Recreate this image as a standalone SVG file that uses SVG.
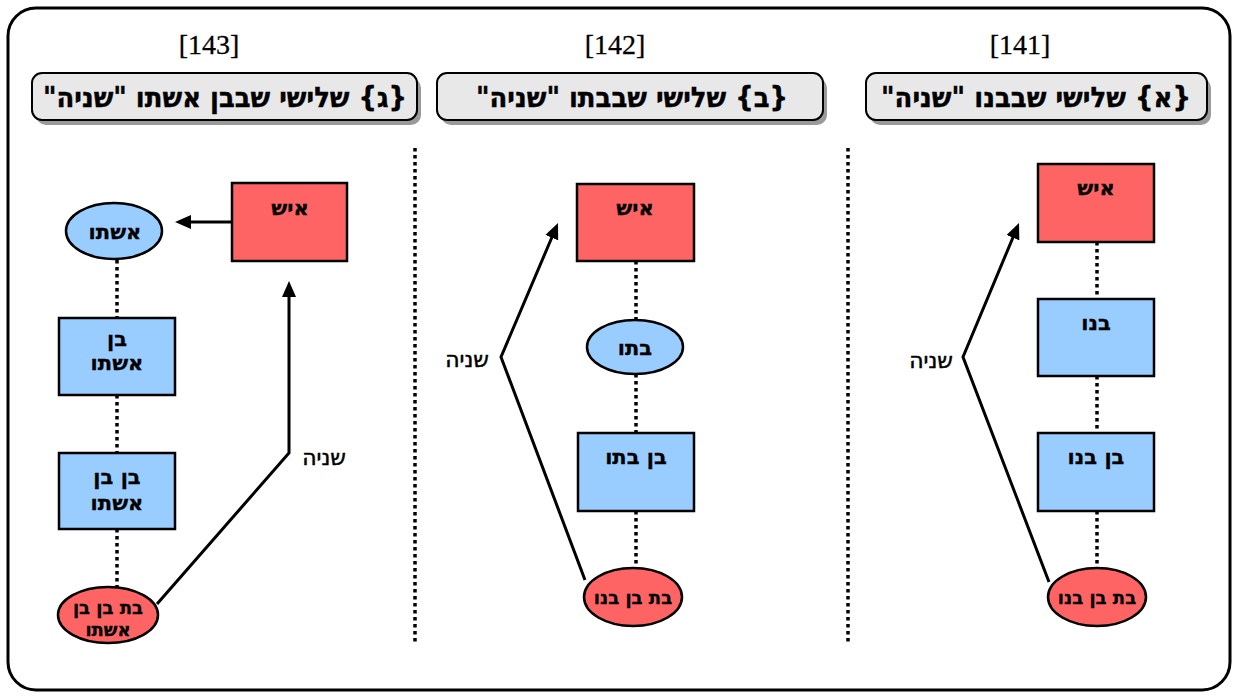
<svg xmlns="http://www.w3.org/2000/svg" width="1238" height="698" viewBox="0 0 1238 698">
<style>
.frame{fill:#fff;stroke:#000;stroke-width:3}
.hdr{fill:#e8e8e8;stroke:#000;stroke-width:2}
.shd{fill:#9a9a9a}
.red{fill:#ff6464;stroke:#000;stroke-width:2.5}
.blue{fill:#99ccff;stroke:#000;stroke-width:2.5}
.dot{stroke:#000;stroke-width:3.5;stroke-dasharray:3.5 3.5;fill:none}
.arr{stroke:#000;stroke-width:3;fill:none;marker-end:url(#ah)}
.num{font-family:"Liberation Serif",serif;font-size:28px;text-anchor:middle;fill:#000;stroke:#000;stroke-width:0.3}
.ht{font-family:"DejaVu Sans",sans-serif;font-size:28px;font-weight:bold;text-anchor:middle;direction:rtl;fill:#000;stroke:#000;stroke-width:0.4}
.nt{font-family:"DejaVu Sans",sans-serif;font-size:21px;font-weight:bold;text-anchor:middle;direction:rtl;fill:#000;stroke:#000;stroke-width:0.3}
.st{font-size:18px}
.lt{font-family:"DejaVu Sans",sans-serif;font-size:22px;text-anchor:middle;direction:rtl;fill:#000;stroke:#000;stroke-width:0.5}
</style>
<defs>
<marker id="ah" markerUnits="userSpaceOnUse" markerWidth="16" markerHeight="14" refX="4" refY="7" orient="auto">
<path d="M0,0 L16,7 L0,14 z" fill="#000"/>
</marker>
</defs>
<rect class="frame" x="8" y="8" width="1222" height="682" rx="28"/>

<g id="dividers">
<line class="dot" x1="415" y1="148" x2="415" y2="645"/>
<line class="dot" x1="848" y1="148" x2="848" y2="645"/>
</g>

<g id="header3">
<text class="num" x="209" y="54">[143]</text>
<rect class="shd" x="36" y="78" width="385" height="47" rx="10"/>
<rect class="hdr" x="32" y="73" width="385" height="47" rx="10"/>
<text class="ht" x="225" y="107" textLength="364" lengthAdjust="spacingAndGlyphs">{ג} שלישי שבבן אשתו "שניה"</text>
</g>
<g id="header2">
<text class="num" x="615" y="54">[142]</text>
<rect class="shd" x="441" y="78" width="386" height="47" rx="10"/>
<rect class="hdr" x="437" y="73" width="386" height="47" rx="10"/>
<text class="ht" x="632" y="107" textLength="312" lengthAdjust="spacingAndGlyphs">{ב} שלישי שבבתו "שניה"</text>
</g>
<g id="header1">
<text class="num" x="1020" y="54">[141]</text>
<rect class="shd" x="870" y="78" width="341" height="47" rx="10"/>
<rect class="hdr" x="866" y="73" width="341" height="47" rx="10"/>
<text class="ht" x="1036" y="107" textLength="310" lengthAdjust="spacingAndGlyphs">{א} שלישי שבבנו "שניה"</text>
</g>

<g id="connectors">
<line class="dot" x1="117" y1="260" x2="117" y2="318"/>
<line class="dot" x1="117" y1="395" x2="117" y2="453"/>
<line class="dot" x1="117" y1="529" x2="117" y2="588"/>
<line class="arr" x1="232" y1="222" x2="187" y2="222"/>
<polyline class="arr" points="157,604 289,453 289,293"/>

<line class="dot" x1="636" y1="261" x2="636" y2="320"/>
<line class="dot" x1="636" y1="374" x2="636" y2="433"/>
<line class="dot" x1="636" y1="511" x2="636" y2="568"/>
<polyline class="arr" points="585,580 501,357 553.3,234"/>

<line class="dot" x1="1097" y1="242" x2="1097" y2="299"/>
<line class="dot" x1="1097" y1="376" x2="1097" y2="433"/>
<line class="dot" x1="1097" y1="511" x2="1097" y2="568"/>
<polyline class="arr" points="1049,582 963,357 1014.4,234"/>
</g>

<g id="labels">
<text class="lt" x="324" y="465">שניה</text>
<text class="lt" x="467" y="367">שניה</text>
<text class="lt" x="931" y="368">שניה</text>
</g>

<g id="p3-ish">
<rect class="red" x="232" y="183" width="115" height="78"/>
<text class="nt" x="290" y="215">איש</text>
</g>
<g id="p3-wife">
<ellipse class="blue" cx="114" cy="231" rx="48" ry="28"/>
<text class="nt" x="115" y="239">אשתו</text>
</g>
<g id="p3-son">
<rect class="blue" x="59" y="318" width="116" height="77"/>
<text class="nt" x="117" y="346">בן</text>
<text class="nt" x="117" y="370">אשתו</text>
</g>
<g id="p3-grandson">
<rect class="blue" x="59" y="453" width="116" height="76"/>
<text class="nt" x="117" y="484">בן בן</text>
<text class="nt" x="117" y="510">אשתו</text>
</g>
<g id="p3-great">
<ellipse class="red" cx="108" cy="615" rx="50" ry="28"/>
<text class="nt st" x="108" y="614">בת בן בן</text>
<text class="nt st" x="108" y="636">אשתו</text>
</g>

<g id="p2-ish">
<rect class="red" x="577" y="184" width="117" height="77"/>
<text class="nt" x="635" y="215">איש</text>
</g>
<g id="p2-daughter">
<ellipse class="blue" cx="635" cy="347" rx="48" ry="27"/>
<text class="nt" x="635" y="355">בתו</text>
</g>
<g id="p2-son">
<rect class="blue" x="578" y="433" width="116" height="78"/>
<text class="nt" x="636" y="464">בן בתו</text>
</g>
<g id="p2-great">
<ellipse class="red" cx="633" cy="597" rx="49" ry="29"/>
<text class="nt st" x="633" y="604">בת בן בנו</text>
</g>

<g id="p1-ish">
<rect class="red" x="1038" y="164" width="116" height="78"/>
<text class="nt" x="1096" y="195">איש</text>
</g>
<g id="p1-son">
<rect class="blue" x="1038" y="299" width="116" height="77"/>
<text class="nt" x="1096" y="330">בנו</text>
</g>
<g id="p1-grandson">
<rect class="blue" x="1038" y="433" width="116" height="78"/>
<text class="nt" x="1096" y="464">בן בנו</text>
</g>
<g id="p1-great">
<ellipse class="red" cx="1097" cy="597" rx="49" ry="29"/>
<text class="nt st" x="1097" y="604">בת בן בנו</text>
</g>
</svg>
